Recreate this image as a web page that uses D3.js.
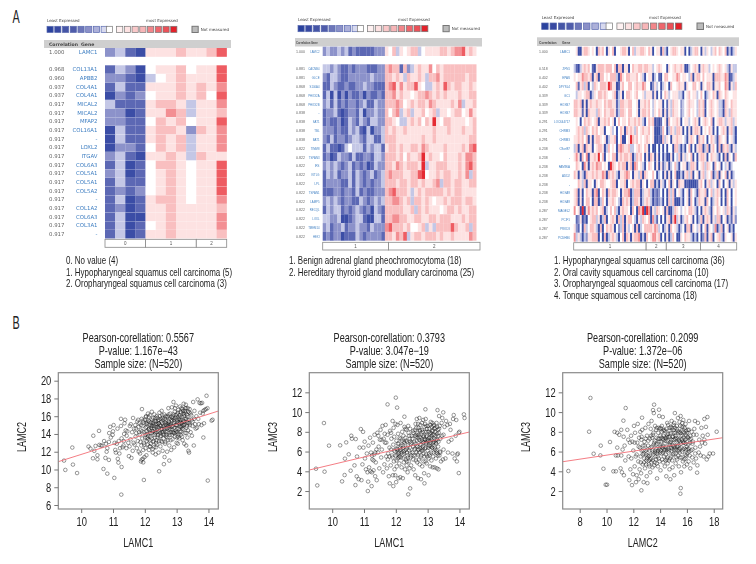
<!DOCTYPE html>
<html><head><meta charset="utf-8">
<script src="https://cdn.jsdelivr.net/npm/d3@7/dist/d3.min.js"></script>
<style>
html,body{margin:0;padding:0;background:#fff}
svg{display:block}
</style></head><body>
<svg id="c" width="756" height="564" font-family="Liberation Sans, sans-serif"></svg>
<script>
// ---------- Panel A: expression heat maps, levels 0 (least) .. 9 (most) ----------
const legendLevels=[0,0.3,0.7,1,1.5,2,2.5,3.2,4,4.5,5,5.6,6,6.6,7,7.6,9];
const legendLeast="Least Expressed", legendMost="most Expressed", legendNA="Not measured";

const hm1Corr=["1.000","0.968","0.960","0.937","0.937","0.917","0.917","0.917","0.917","0.917","0.917","0.917","0.917","0.917","0.917","0.917","0.917","0.917","0.917","0.917","0.917"];
const hm1Genes=["LAMC1","COL13A1","APBB2","COL4A1","COL4A1","MICAL2","MICAL2","MFAP2","COL16A1","-","LOXL2","ITGAV","COL6A3","COL5A1","COL5A1","COL5A2","-","COL1A2","COL6A3","COL3A1","-"];
const hm1Rows=[
"2310 55565568",
"1320 45564558",
"2210 34565558",
"1311 55565657",
"0212 45565648",
"3111 56653557",
"2201 55763556",
"2211 46564558",
"0311 56652657",
"0311 56563557",
"0221 46563557",
"2310 55653655",
"1301 46654558",
"2301 45654558",
"1311 45654558",
"1212 45654558",
"1301 56654557",
"1201 55655556",
"1300 55655557",
"1301 45655557",
"1301 55655556"];
const hm1Classes=[["0",4],["1",5],["2",3]];
const hm1Captions=["0. No value (4)","1. Hypopharyngeal squamus cell carcinoma (5)","2. Oropharyngeal squamus cell carcinoma (3)"];

const hm2Corr=["1.000","0.881","0.881","0.868","0.868","0.868","0.838","0.838","0.838","0.838","0.822","0.822","0.822","0.822","0.822","0.822","0.822","0.822","0.822","0.822","0.822"];
const hm2Genes=["LAMC2","CACNB4","GLCE","S100A4","PHOX2A","PHOX2B","-","SAT1","TBL","BAT1","TIMM8","TSPAN3","IRS","KITLG","LPL","TSPAN1","LAMP5","RECQL","LOXL","TMEM14","HEXI"];
const hm2Rows=[
"23223 23121 11112 22|54635 45663 45555 66567 78565",
"33232 11212 22111 22|67661 62356 55746 56666 66666",
"21332 11222 22232 22|66565 36556 53667 56666 66566",
"11321 12112 23221 11|67857 56685 43356 58656 65565",
"13030 20211 20211 21|66756 55456 67656 56555 65566",
"23131 21221 23113 22|66676 45656 65765 55565 73556",
"12231 01221 30223 22|64673 56355 64563 55456 64575",
"12112 01321 32133 22|66543 35656 46595 46655 55456",
"22212 11323 10302 23|65655 65555 55565 55655 56556",
"21312 21233 21331 13|66655 55555 65565 55555 55566",
"13110 13433 31323 31|56656 55665 76555 56555 56578",
"12013 22131 12213 32|66656 46556 95655 46555 65776",
"23232 12312 12013 22|66576 56665 93556 66555 65786",
"13231 22313 21231 23|67666 55668 94556 56655 65736",
"12222 11313 21212 23|66656 65665 65567 36656 65566",
"11122 12213 12112 22|67866 65356 56666 65656 65555",
"23232 12211 32123 23|66776 56366 56545 56566 65665",
"13233 12123 21203 21|66666 55636 56555 45665 65566",
"33223 00123 31003 31|66776 65566 55665 66655 56566",
"23122 31223 22132 22|78666 56445 63536 66686 55636",
"12122 01113 21222 21|66576 83566 56665 65565 55576"];
const hm2Classes=[["1",18],["2",25]];
const hm2Captions=["1. Benign adrenal gland pheochromocytoma (18)","2. Hereditary thyroid gland modullary carcinoma (25)"];

const hm3Corr=["1.000","0.518","0.402","0.402","0.339","0.339","0.339","0.291","0.291","0.291","0.238","0.238","0.238","0.238","0.238","0.238","0.238","0.287","0.287","0.287","0.287"];
const hm3Genes=["LAMC1","ZFN1","EPAS","DPYSL4","GC1","HOXB7","HOXB7","LOC644717","CHRM3","CHRM3","C9orf87","-","FAM96A","ADD2","-","HOXA9","HOXA9","MAGEL2","PCIF1","PRKD3","PCDHB6"];
const hm3Rows=[
"4500566545 4065640546 0445665046 3556654650 4550630456 6545504035 6640535435 6465460303 5",
"3103565641 0566656664 6066055046 5566566553 4565440545 6556500345 6505655345 4565453153 3",
"5455766560 5606645466 6307546655 5645304550 3410466445 5764554360 5664645550 6665576013 5",
"4615636043 6546665975 5015644664 5655764402 5340354064 4565505446 6450546650 5564476053 6",
"4355456603 5466565445 6035046654 5644535551 5041465345 5533045645 5346403546 5065465445 5",
"6656050565 5655465665 5136655664 4505565643 5455041536 5542345655 4365604565 4533065465 5",
"6655150655 5365465566 5136654664 4505665643 5465051536 5542345645 4365604565 4533065365 5",
"4540465654 5605565645 0464554655 6565304656 0101450645 5650455345 6504565460 4566535563 5",
"4565636546 5645504453 4046506565 3645655645 0002640365 3665040505 6650454650 4045650563 0",
"5565646050 5665450355 6046004596 5645456545 0010635405 5655430565 4065640465 3065450453 0",
"3605606550 4566503645 4067655633 4565465040 0404040440 6630304604 0566036056 4060656305 3",
"5750647055 6594604546 6056566560 3656405065 0504030050 4360535460 4056650465 5304060541 6",
"4654075056 5766454096 5465660560 7645304654 0505135034 6304550366 5045636540 6450435034 4",
"6505306556 5655760656 5305567640 5536065446 4034050504 6003056360 4505635460 3605460503 4",
"4465360554 0546654456 6045560456 5660540466 0305304605 4065501000 0156405635 4064045053 5",
"5605046550 6704650656 6540566703 6660355630 2124040636 0453045064 3065560463 5650406404 5",
"5605046640 6603640556 5430656503 6650356530 2123040636 0003045064 0365506403 5640406404 5",
"7450905756 5645603464 6305655406 4076909705 3654506003 6543454665 3040565305 4654536505 3",
"4125020456 6350360456 5063605664 3053654607 3140405606 9350356450 4036056505 3660450315 2",
"5214063466 5306046565 0423605345 0603466665 7634035064 5303406605 4350460543 7036045030 4",
"7353032556 6604060356 5304606505 6670306457 7560405036 4005465530 3040260560 4563054450 5"];
const hm3Classes=[["1",36],["2",10],["3",17],["4",18]];
const hm3Captions=["1. Hypopharyngeal squamus cell carcinoma (36)","2. Oral cavity squamous cell carcinoma (10)","3. Oropharyngeal squaomous cell carcinoma (17)","4. Tonque squamous cell carcinoma (18)"];

// ---------- Panel B: scatter plots ----------
const titlesA=["Pearson-corellation: 0.5567","P-value: 1.167e\u221243","Sample size: (N=520)"];
const titlesB=["Pearson-corellation: 0.3793","P-value: 3.047e\u221219","Sample size: (N=520)"];
const titlesC=["Pearson-corellation: 0.2099","P-value: 1.372e\u221206","Sample size: (N=520)"];
const fitA=[[9.28,10.88],[14.31,16.58]];
const fitB=[[9.28,4.13],[14.31,7.98]];
const fitC=[[6.73,4.97],[18.67,7.4]];
const ticksX12=[10,11,12,13,14], ticksX3=[8,10,12,14,16,18];
const ticksYA=[6,8,10,12,14,16,18,20], ticksYB=[2,4,6,8,10,12];

const pointsA=[[9.46,11],[9.5,9.95],[9.72,12.47],[9.74,10.55],[9.87,9.6],[10.23,12.58],[10.29,12.35],[10.38,13.8],[10.41,12.1],[10.37,11.26],[10.51,11.6],[10.51,11.15],[10.45,12.65],[10.56,14.35],[10.57,12.77],[10.72,13.2],[10.7,10.06],[10.82,9.53],[10.76,11.3],[10.87,11.08],[11.04,9.05],[11.26,7.17],[11.27,10.28],[11.17,10.77],[11.97,8.82],[12.45,9.8],[12.6,10.6],[12.77,11],[13.98,8.75],[14.13,15.6],[13.94,18.3],[13.84,13.6],
[10.62,12.7],[10.66,12.68],[10.78,12.9],[10.8,12],[10.82,12.4],[10.87,13.1],[10.88,14.1],[10.93,13.6],[10.91,14.8],[10.99,13.9],[11.02,15],[11,14.3],[11.05,13],[11.07,12.2],[11.09,11.9],[11.12,12.9],[11.14,14.6],[11.15,11.2],[11.18,13.2],[11.2,11.8],[11.22,12.4],[11.25,15.7],[11.25,14.9],[11.27,13.5],[11.3,12.5],[11.33,12.7],[11.34,13.2],[11.35,14],[11.36,15.2],[11.38,15.6],[11.4,14.4],[11.42,12.4],[11.43,13.8],[11.45,14.3],[11.48,13],
[11.5,11.5],[11.52,12.6],[11.53,14.9],[11.55,13.4],[11.56,15.1],[11.58,11.3],[11.6,14.2],[11.62,12.1],[11.63,15.8],[11.65,13],[11.66,14.6],[11.68,12.8],[11.7,15],[11.71,13.7],[11.73,14.1],[11.75,12.4],[11.76,15.4],[11.78,13.2],[11.8,14.8],[11.81,12],[11.83,15.2],[11.84,13.9],[11.85,11.8],[11.87,14.4],[11.88,10.9],[11.89,12.7],[11.9,15.7],[11.91,16.8],[11.92,13.5],[11.93,14.9],[11.94,11.2],[11.95,12.2],[11.96,15.3],[11.97,13],[11.98,14.2],[11.99,11.4],[12,15.6],[12.01,13.6],[12.02,12.4],[12.03,14.7],[12.04,16],[12.05,11.6],[12.06,13.2],[12.07,15.1],[12.08,14],[12.09,12.8],[12.1,16.3],[12.11,13.8],[12.12,14.5],[12.13,12.2],[12.14,15.4],[12.15,13.3],[12.16,16.1],[12.17,14.1],[12.18,15],[12.19,12.9],[12.2,14.7],[12.21,13.5],[12.22,16.5],[12.23,15.6],[12.24,14.3],[12.25,11.9],[12.26,13.1],[12.27,15.3],[12.28,14.9],[12.29,12.5],[12.3,16.2],[12.31,13.9],[12.32,14.4],[12.33,15.8],[12.34,11.7],[12.35,13],[12.36,14.8],[12.37,16],[12.38,12.8],[12.39,15.1],[12.4,13.6],[12.41,14.2],[12.42,15.5],[12.43,11.9],[12.44,14.7],[12.45,13.2],[12.46,16.4],[12.47,15],[12.48,14.1],[12.49,12.6],[12.5,15.7],[12.51,13.8],[12.52,14.5],[12.53,16.6],[12.54,13.1],[12.55,15.2],[12.56,12.1],[12.57,14],[12.58,15.6],[12.59,13.5],[12.6,14.8],[12.61,16.2],[12.62,11.4],[12.63,15.3],[12.64,12.9],[12.65,14.3],[12.66,16],[12.67,13.7],[12.68,15],[12.69,14.6],[12.7,12],[12.71,15.9],[12.72,13.3],[12.73,14.9],[12.74,16.9],[12.75,15.4],[12.76,14.1],[12.77,12.7],[12.78,15.7],[12.79,13.9],[12.8,16.3],[12.81,14.5],[12.82,15.1],[12.83,12.2],[12.84,14.8],[12.85,17],[12.86,15.5],[12.87,13.4],[12.88,16],[12.89,14.2],[12.9,17.6],[12.91,15.2],[12.92,12.5],[12.93,14.7],[12.94,16.5],[12.95,13.7],[12.96,15.8],[12.97,14.4],[12.98,17.2],[12.99,15],[13,13],[13.01,16.2],[13.02,14.6],[13.03,15.4],[13.04,12.9],[13.05,16.7],[13.06,14],[13.07,15.7],[13.08,13.5],[13.09,16.1],[13.1,14.8],[13.11,17.1],[13.12,15.3],[13.13,13.9],[13.14,16.4],[13.15,14.3],[13.16,15.9],[13.17,14.9],[13.18,16.8],[13.19,13.3],[13.2,15.5],[13.21,14.5],[13.22,17.4],[13.23,16],[13.24,12.9],[13.25,15.1],[13.26,16.6],[13.27,14.1],[13.28,15.7],[13.29,17.3],[13.3,12.7],[13.31,14.7],[13.32,16.2],[13.33,15.3],[13.34,13.6],[13.35,16.9],[13.36,14.4],[13.37,12.1],[13.38,15.6],[13.39,11.9],[13.4,16.4],[13.42,15],[13.44,14.2],[13.46,16.1],[13.48,13.8],[13.5,15.4],[13.52,17.6],[13.54,12.7],[13.56,16.6],[13.58,15.1],[13.6,14.6],[13.62,16],[13.64,14.7],[13.66,17.9],[13.68,15.7],[13.7,15.1],[13.72,17.5],[13.74,16.4],[13.76,17.45],[13.78,15],[13.8,17.5],[13.82,16.3],[13.84,16.6],[13.86,15.2],[13.88,16.7],[13.92,16.8],[13.97,16.9],[14.1,15.5],
[12.02,13.9],[12.08,15.3],[12.13,14.6],[12.18,13.7],[12.23,14.9],[12.28,13.2],[12.33,14.1],[12.38,14.6],[12.43,15.2],[12.48,13.7],[12.53,14.6],[12.58,14.2],[12.63,15.7],[12.68,13.9],[12.73,15.1],[12.78,14.6],[12.83,15.6],[12.88,14.9],[12.93,15.4],[12.98,14.2],[13.03,15.9],[13.08,15.2],[13.13,15.6],[13.18,14.6],[13.23,15.4],[13.28,16.4],[13.01,15],[13.11,14.2],[13.21,16.3],[13.31,15.7],[12.15,12.6],[12.25,12.3],[12.35,12.5],[12.05,14.3],[12.25,15.1],[12.45,15.6],[12.65,13.1],[12.85,13.9],[13.05,13.7],[13.15,16.9],[12.95,16.9],[12.75,16.2],[12.55,16.1],[12.35,15.4],
[12.04,15.2],[12.06,14.8],[12.1,13.4],[12.12,15.9],[12.16,14.4],[12.2,15.3],[12.22,14.1],[12.26,15.8],[12.3,14.6],[12.32,13.6],[12.34,15.1],[12.36,14.2],[12.4,15.8],[12.42,13.9],[12.44,15.2],[12.46,14.3],[12.5,14.9],[12.52,15.4],[12.54,14.2],[12.56,15.8],[12.6,13.9],[12.62,15],[12.64,14.6],[12.66,15.5],[12.7,14.2],[12.72,16],[12.74,14.7],[12.76,15.2],[12.8,15],[12.82,14.2],[12.84,15.9],[12.86,14.5],[12.9,16.2],[12.92,15.6],[12.94,14.1],[12.96,15],[13,15.6],[13.02,14.2],[13.04,16.4],[13.06,15.3],[13.1,15.9],[13.12,16.5],[13.14,14.8],[13.16,15.2],[13.2,16.6],[13.22,15],[13.24,16.2],[13.26,15.4],[13.3,16.9],[13.32,14.9],[13.34,15.9],[13.36,16.5],[13.4,15.2],[13.44,16.3],[13.5,14.9],[13.55,15.7],[12.03,15.9],[12.07,13.6],[12.11,15.5],[12.17,12.6],[12.21,14.9],[12.27,14.3],[12.31,15.5],[12.37,13.3],[12.41,14.8],[12.47,16],[12.51,13.2],[12.57,14.9],[12.61,14.5],[12.67,15.2],[12.71,13.6],[12.77,15],[12.81,13.3],[12.87,15.8],[12.91,14.1],[12.97,16.1],[13.01,13.6],[13.07,14.6],[13.11,15.4],[13.17,13.7],[13.21,15],[13.27,16.9],[13.31,14.1],[13.37,15.2],[13.41,16.8],[13.47,15.6],[11.72,14.6],[11.79,15.6],[11.82,14.2],[11.86,13.1],[11.88,15],[11.92,14.3],[11.94,15.5],[11.98,12.8],[11.9,11.1],[11.95,10.8]];

const pointsB=[[9.49,4.26],[9.53,2.57],[9.74,8.89],[9.76,3.96],[9.9,6.6],[10.31,2.98],[10.25,6.63],[10.4,5.28],[10.39,3.62],[10.44,6.93],[10.52,5.72],[10.58,4.06],[10.6,7.6],[10.73,2.6],[10.74,7.27],[10.77,3.49],[10.9,8.28],[10.97,8],[11.12,2],[11.24,2.5],[11.13,2.95],[11.74,10.78],[12,11.46],[12.04,10.45],[12.39,1.66],[12.45,2.27],[12.27,9.53],[12.93,10.28],[12.9,2.78],[13.31,10.2],[13.49,9.97],[13.98,3.82],[14.14,9.77],[14.16,9.4],[11.92,2.5],[11.81,2.78],
[10.62,7.3],[10.7,4.6],[10.78,5.5],[10.83,3.2],[10.86,6.4],[10.92,3.1],[10.95,4.7],[10.98,6.4],[11.02,7],[11.03,5.3],[11.06,4.2],[11.09,5.8],[11.11,3.9],[11.14,6.6],[11.16,4.4],[11.19,7.4],[11.2,4],[11.22,5.9],[11.25,3.9],[11.26,5.2],[11.28,6.9],[11.3,4.1],[11.32,5.7],[11.33,7.7],[11.35,3.5],[11.37,4.9],[11.39,6.2],[11.4,3.1],[11.42,7.9],[11.44,5.9],[11.46,6.5],[11.48,4.3],[11.5,7.2],[11.52,8.2],[11.54,5.4],[11.56,6.2],[11.58,8.6],[11.6,3.9],[11.62,7.3],[11.64,4.7],[11.66,6.9],[11.68,8.7],[11.7,5.5],[11.72,4.3],[11.74,7.7],[11.76,5.8],[11.78,3.5],[11.8,6.4],[11.82,8.1],[11.84,4.6],[11.86,7.3],[11.88,5.6],[11.9,9.1],[11.91,3.6],[11.92,6.7],[11.93,8.4],[11.94,5],[11.95,7.5],[11.96,4.2],[11.97,6],[11.98,3.6],[11.99,8.8],[12,5.6],[12.01,2.9],[12.02,7.1],[12.03,4.5],[12.04,6.3],[12.05,8.7],[12.06,5.3],[12.07,7.8],[12.08,3.3],[12.09,6.8],[12.1,5.9],[12.11,4.8],[12.12,7.4],[12.13,6.1],[12.14,3.4],[12.15,8.9],[12.16,5.4],[12.17,6.6],[12.18,4.4],[12.19,7.1],[12.2,8],[12.21,5.7],[12.22,3.3],[12.23,6.4],[12.24,7.6],[12.25,4.9],[12.26,5.8],[12.27,8.5],[12.28,6.9],[12.29,4.2],[12.3,7.4],[12.31,5.2],[12.32,6.2],[12.33,8.2],[12.34,4.6],[12.35,7],[12.36,5.6],[12.37,3.9],[12.38,6.6],[12.39,8.6],[12.4,7.9],[12.41,5],[12.42,6.1],[12.43,4.3],[12.44,7.3],[12.45,8.3],[12.46,5.4],[12.47,6.8],[12.48,4.6],[12.5,7.6],[12.52,5.9],[12.54,8.1],[12.56,4.2],[12.58,7],[12.6,6.3],[12.61,3.6],[12.62,8.8],[12.63,5.1],[12.64,7.5],[12.65,6.6],[12.66,9.3],[12.67,4.9],[12.68,7.9],[12.69,5.7],[12.7,3.3],[12.71,8.4],[12.72,6.2],[12.73,7.2],[12.74,9.4],[12.75,4.7],[12.76,6.7],[12.77,8.7],[12.78,5.4],[12.79,3.2],[12.8,7.7],[12.81,6.1],[12.82,8.2],[12.83,4.5],[12.84,7],[12.85,6.5],[12.86,9.2],[12.87,5.8],[12.88,7.5],[12.89,3.8],[12.9,8.5],[12.91,6.3],[12.92,7.2],[12.93,5],[12.94,9.3],[12.95,6.8],[12.96,8],[12.97,4.8],[12.98,7.6],[12.99,5.5],[13,6.1],[13.01,8.6],[13.02,7.1],[13.03,3.6],[13.04,6.6],[13.05,8.3],[13.06,5.6],[13.07,7.8],[13.08,4.5],[13.09,6.9],[13.1,9],[13.11,7.4],[13.12,5.1],[13.13,8.5],[13.14,6.4],[13.15,7.7],[13.16,4.4],[13.17,8.1],[13.18,6.9],[13.19,5.9],[13.2,8.7],[13.21,7.3],[13.22,4.4],[13.23,6.2],[13.24,8.4],[13.25,7.6],[13.26,5.3],[13.27,6.8],[13.28,8.9],[13.29,4.3],[13.3,7.2],[13.31,5.8],[13.32,8.2],[13.33,6.5],[13.34,4.2],[13.35,7.9],[13.36,9.6],[13.37,5.6],[13.38,8.6],[13.39,6],[13.4,7.3],[13.42,5],[13.44,8.9],[13.46,9.4],[13.48,5.2],[13.5,7.7],[13.53,8.5],[13.56,5.3],[13.58,9.1],[13.62,8.7],[13.64,5.9],[13.66,7],[13.7,8.8],[13.72,8.2],[13.75,7.2],[13.78,5.8],[13.8,9.3],[13.82,9.7],[13.85,5.3],[13.88,7.6],[13.9,9.2],[13.92,5],[13.93,5.7],[13.95,5.8],[13.98,7.9],[14,8],
[11.7,6.9],[11.85,6.2],[12.05,6.2],[12.15,7.3],[12.25,6],[12.35,5.9],[12.45,5.9],[12.55,6.5],[12.65,7.7],[12.75,7.5],[12.85,8],[12.95,6.9],[13.05,7.4],[13.15,6.4],[13.25,6.9],[12.55,7.9],[12.7,6.2],[12.8,6.7],[12.9,5.5],[13.1,7.9],[13.2,7.7],[13.3,8.5],[12.6,8.2],[12.3,8.3],[12.1,5.4],
[11.25,5.6],[11.3,5.1],[11.35,5.9],[11.45,7.6],[11.55,7.2],[11.65,7.8],[11.75,5.2],[11.8,5.5],[11.85,7.9],[11.9,5.4],[11.95,6.1],[12,6.3],[12.02,5.1],[12.06,6.8],[12.08,5.8],[12.12,5.5],[12.14,6.4],[12.18,5.9],[12.22,6.6],[12.24,5.3],[12.28,6.1],[12.32,7.1],[12.36,6.4],[12.38,5.4],[12.42,7.6],[12.44,6.4],[12.48,5.6],[12.5,6.9],[12.52,7.3],[12.56,5.6],[12.58,6.2],[12.6,7.6],[12.62,6.8],[12.64,8.4],[12.66,7.1],[12.68,6.5],[12.7,8.8],[12.72,7.7],[12.74,5.9],[12.76,8.2],[12.78,7.1],[12.8,5.6],[12.82,8.9],[12.84,6.3],[12.86,7.6],[12.88,6.9],[12.9,7.3],[12.92,8.8],[12.94,6.4],[12.96,7.5],[12.98,8.3],[13,7.2],[13.02,6.4],[13.04,8],[13.06,7.1],[13.08,8.7],[13.1,6.5],[13.12,7.6],[13.14,8.1],[13.16,6.9],[13.18,8.6],[13.2,7],[13.22,6.4],[13.24,8],[13.26,7.2],[13.28,6.1],[13.3,7.8],[13.32,5.6],[13.34,7],[13.36,8.3],[13.4,5.9],[13.45,7.6],[13.5,6.2],[12.61,5.6],[12.69,7.4],[12.73,5.2],[12.77,6.3],[12.83,7.2],[12.87,5],[12.91,8],[12.95,5.7],[12.99,7],[13.03,5.3],[13.07,6.6],[13.11,5.9],[13.21,8.3],[13.27,5.9],[13.33,7.6],[13.13,7.2],[13.17,5.5],[12.05,5.7],[12.15,6.2],[12.25,7],[12.35,5],[12.45,7],[12.55,5.2],[12.65,5.9],[12.75,8.1],[12.85,6.1],[12.95,8.6],[13.05,5.8],[13.15,8.9]];

const pointsC=[[7.15,4.03],[8.8,11.43],[8.7,8.01],[9.04,5.78],[9.54,5.61],[9.57,6.6],[9.77,4.26],[9.94,2.64],[10.04,2.64],[10.26,6.97],[10.51,4],[10.7,4],[10.6,8],[11.43,10.41],[11.26,9.13],[12.65,9.43],[12.6,2.07],[13.55,10.75],[13.92,10.24],[13.47,10.2],[15.54,2.3],[15.51,1.73],[18.22,8.01],[17.53,9.5],[17.3,9.3],[16.76,3.86],[13.77,3.28],
[10.7,5.6],[10.8,7.9],[10.8,6.4],[10.85,5.6],[10.95,7.7],[11.05,4.3],[11.1,8.2],[11.1,5.6],[11.15,3.9],[11.2,6.2],[11.28,7.5],[11.3,3.6],[11.35,6.6],[11.4,5.1],[11.55,8.2],[11.62,7.2],[11.65,5.5],[11.7,3.1],[11.75,6.9],[11.78,4.2],[11.83,7.6],[11.85,5.3],[11.9,2.6],[11.93,7],[11.98,3.7],[12,6.1],[12.05,8.6],[12.1,4.5],[12.13,7.9],[12.18,5.5],[12.2,2.9],[12.25,3.6],[12.3,6.9],[12.33,8.8],[12.37,5],[12.4,3.2],[12.43,7.4],[12.47,4.2],[12.5,6.4],[12.52,8],[12.55,5.5],[12.58,3.8],[12.62,7.5],[12.66,8.2],[12.7,4.7],[12.73,6.6],[12.77,2.9],[12.8,5.8],[12.83,7],[12.87,4.3],[12.9,8.4],[12.93,6.1],[12.97,5.1],[13,3.5],[13.02,7.6],[13.05,2.8],[13.08,5.6],[13.1,6.6],[13.13,8.8],[13.16,4.7],[13.2,6.1],[13.23,7.3],[13.26,3.9],[13.3,8.3],[13.33,5.3],[13.36,9.1],[13.4,6.5],[13.43,4.4],[13.46,7.7],[13.5,5.7],[13.53,9.9],[13.56,6.9],[13.6,4.9],[13.62,8.6],[13.65,6.1],[13.68,5.2],[13.72,7.4],[13.75,8.4],[13.78,5.8],[13.8,6.8],[13.83,4.5],[13.86,7.9],[13.9,5.3],[13.93,9.6],[13.96,6.3],[14,8.3],[14.03,4.1],[14.06,7],[14.1,5.8],[14.13,8.6],[14.16,6.4],[14.2,9.5],[14.23,4.9],[14.26,7.6],[14.3,5.5],[14.33,6.8],[14.36,8.1],[14.4,5.1],[14.43,7.3],[14.46,3.5],[14.5,6.2],[14.53,8.9],[14.56,4.8],[14.6,7.8],[14.63,5.9],[14.66,6.7],[14.7,4.2],[14.73,8.4],[14.76,3.2],[14.8,7],[14.83,5.5],[14.86,9.1],[14.9,6.3],[14.93,4.4],[14.96,7.5],[15,8.7],[15.02,5.8],[15.05,3.6],[15.08,6.9],[15.1,9.9],[15.13,7.9],[15.16,4.8],[15.2,6.2],[15.23,8.3],[15.26,5.2],[15.3,7.3],[15.33,9.4],[15.36,6.6],[15.4,4.5],[15.43,8],[15.46,5.9],[15.5,7],[15.53,9.6],[15.56,3.9],[15.6,6.4],[15.63,8.5],[15.66,7.6],[15.7,5],[15.73,9.2],[15.76,6.9],[15.8,4.5],[15.83,7.9],[15.86,5.7],[15.9,8.8],[15.93,6.2],[15.96,7.3],[16,4.7],[16.03,5.8],[16.06,8.2],[16.1,6.7],[16.13,5],[16.16,9.1],[16.2,7.2],[16.25,4.3],[16.3,6.1],[16.35,8],[16.4,5.4],[16.45,7],[16.5,4.9],[16.55,8.3],[16.6,9.1],[16.63,6.4],[16.68,5.3],[16.72,7.7],[16.78,4.6],[16.82,8.9],[16.88,5.9],[16.92,7.2],[16.98,6.5],[17.02,5.6],[17.08,8.4],[17.12,6.9],[17.18,7.6],[17.25,5.5],[17.3,7.2],[17.36,6.8],[17.42,8.5],[17.48,5.2],[17.55,7.7],[17.6,5.5],[17.7,5.8],[17.95,5.8],
[13.5,7.9],[13.7,6.7],[13.85,6.1],[14,6.5],[14.1,7.4],[14.2,5.9],[14.3,8.2],[14.4,7.1],[14.5,7.5],[14.6,6.3],[14.7,8.1],[14.75,6.7],[14.8,7.9],[14.85,6.1],[14.9,8.4],[14.95,5.7],[15,7.2],[15.05,8.9],[15.1,6.4],[15.15,7.6],[15.2,5.4],[15.25,8.6],[15.3,6.5],[15.35,7.9],[15.4,6.1],[15.45,9],[15.5,5.4],[15.55,7.6],[15.6,8.1],[15.65,6],[15.7,7],[15.75,8.5],[15.8,6.3],[15.85,7.2],[15.9,5.3],[15.95,8.1],[16,6.5],[16.05,7.5],[16.15,6],[16.25,7.6],[14.25,7.2],[14.55,5.4],[14.35,4.5],[14.65,5.1],[13.95,7.3],[13.25,5.2],[13.45,5.1],[12.95,5.7],[13.15,5.5],[12.75,6.1],
[12.1,6.9],[12.25,5.7],[12.4,6.5],[12.55,4.9],[12.6,7.2],[12.7,5.7],[12.8,4.9],[12.85,6.6],[12.95,4.7],[13.05,6.2],[13.15,5.1],[13.2,4.5],[13.3,6.4],[13.35,4.9],[13.4,7.4],[13.45,5.9],[13.55,4.6],[13.6,7.1],[13.65,5.5],[13.7,8.2],[13.75,4.8],[13.8,6],[13.85,7.3],[13.9,8.4],[13.95,5],[14,5.9],[14.05,8.4],[14.1,6.5],[14.15,5.2],[14.2,7.3],[14.25,8.1],[14.3,6.1],[14.35,7.4],[14.4,6.2],[14.45,8.3],[14.5,5.2],[14.55,7.1],[14.6,8.7],[14.65,6.1],[14.7,7.5],[14.75,5.3],[14.8,8.5],[14.85,7.2],[14.9,5.1],[14.95,6.6],[15,7.9],[15.05,6.2],[15.1,8.4],[15.15,5.8],[15.2,7.4],[15.25,6.5],[15.3,8.1],[15.35,5.6],[15.4,7.1],[15.45,6.3],[15.5,8.6],[15.55,6.8],[15.6,5.4],[15.65,8.9],[15.7,6.2],[15.75,7.4],[15.8,5.2],[15.85,8.4],[15.9,6.8],[15.95,5.6],[16,7.9],[16.05,6.2],[16.1,7.4],[16.15,8.2],[16.2,5.6],[16.3,7.3],[16.4,6.2],[16.5,7.7],[14.05,6.1],[14.45,6.4],[14.62,7.5],[14.82,6.4],[15.02,6.5],[15.22,6.9],[15.42,7.2],[15.62,7.2],[15.82,6.9],[15.02,8.2],[14.72,6.9],[14.52,7.7],[14.32,6.2],[14.12,8],[13.92,7],[13.72,6.3],[13.52,6.7],[13.32,7.6],[13.12,7.1],[12.92,7.3],[15.12,7.3],[15.32,6.1],[15.52,7.9],[15.72,8],[15.92,7.7],[16.12,6.3],[16.22,6.9],[16.42,6.8],[16.62,5.8],[14.92,7.5],[14.42,5.7],[14.22,6.6],[14.02,7.6],[13.82,5.5],[13.62,5.9],[13.42,6.1],[13.22,5.6],[13.02,5.3],[12.82,5.3],[12.62,6.1]];

const xLabelA="LAMC1", yLabelA="LAMC2", xLabelB="LAMC1", yLabelB="LAMC3", xLabelC="LAMC2", yLabelC="LAMC3";
const panelLetters=["A","B"];

// ---------- drawing ----------
const svg=d3.select("#c");
const WIDE="DejaVu Sans, sans-serif";
const defs=svg.append("defs");
defs.append("filter").attr("id","soft").attr("x","-5%").attr("y","-5%").attr("width","110%").attr("height","110%")
  .append("feGaussianBlur").attr("stdDeviation",0.5);
defs.append("filter").attr("id","soft2").append("feGaussianBlur").attr("stdDeviation",0.3);

const color=d3.scaleLinear().domain([0,1,2,3,4,5,6,7,8,9])
  .range(["#3b4ea6","#5c67b4","#8c92ca","#c4c7e6","#ffffff","#fde2e2","#f9bfc0","#f38f93","#ee5c62","#e52a32"]);
const legendColor=d3.scaleLinear().domain([0,1,2,3,4,5,6,7,9])
  .range(["#2c429e","#4f5baa","#8b90c8","#cdd0ea","#ffffff","#fde2e2","#f7b6b8","#ee666c","#e3202a"]);

function narrow(sel,k){return sel.classed("narrow",true).attr("data-k",k);}

function heatmap(o){
  const g=svg.append("g").attr("filter","url(#soft)");
  // legend
  const lx=d3.scaleLinear().domain([0,16]).range([o.legX0,o.legX1]);
  const legOffset=i=>i<8?0:(i===8?2.5:5)-o.legShift;
  g.selectAll("rect.leg").data(legendLevels).join("rect")
    .attr("x",(d,i)=>lx(i)+legOffset(i)).attr("y",o.legY).attr("width",o.legSize).attr("height",o.legSize)
    .attr("fill",d=>legendColor(d)).attr("stroke",(d,i)=>i>=8?"#777":"#5a6ab0").attr("stroke-width",0.7);
  const lg=(x,y,t)=>g.append("text").attr("x",x).attr("y",y).attr("font-size",4).attr("font-family",WIDE).attr("fill","#444").text(t);
  lg(o.legX0,o.legY-4.5,legendLeast); lg(o.mostX,o.legY-4.5,legendMost);
  g.append("rect").attr("x",o.naX).attr("y",o.legY).attr("width",o.legSize).attr("height",o.legSize).attr("fill","#bbb").attr("stroke","#777").attr("stroke-width",1);
  lg(o.naX+o.legSize+2.5,o.legY+o.legSize-1.5,legendNA);
  // header
  g.append("rect").attr("x",o.hdrX0).attr("y",o.hdrY).attr("width",o.hdrX1-o.hdrX0).attr("height",o.hdrH).attr("fill","#cfcfcf");
  const hdr=(x,t)=>g.append("text").attr("x",x).attr("y",o.hdrY+o.hdrH-2.2).attr("font-size",o.hdrFont).attr("font-weight","bold").attr("font-family",o.labFamily).attr("fill","#444").text(t);
  hdr(o.corrX,"Correlation"); hdr(o.hdrGeneX,"Gene");
  // rows
  const rows=o.rows.map(r=>r.replace(/[^0-9]/g,"").split("").map(Number));
  const nCols=d3.sum(o.classes,c=>c[1]);
  const x=d3.scaleLinear().domain([0,nCols]).range([o.x0,o.x1]);
  const rowY=d3.scaleLinear().domain([1,rows.length-1]).range([o.y1Start,o.y1End]);
  const yOf=i=>i===0?o.y0:rowY(i);
  const hOf=i=>i===0?o.h0:o.rowH;
  rows.forEach((r,i)=>{
    g.selectAll(null).data(r).join("rect")
      .attr("x",(d,j)=>x(j)).attr("y",yOf(i)).attr("width",x(1)-x(0)+0.15).attr("height",hOf(i)-o.gap)
      .attr("fill",d=>color(d));
    g.append("text").attr("x",o.corrX).attr("y",yOf(i)+hOf(i)*0.68).attr("font-size",o.labFont).attr("font-family",o.labFamily).attr("fill","#666").text(o.corr[i]);
    narrow(g.append("text").attr("x",o.geneX).attr("y",yOf(i)+hOf(i)*0.68).attr("text-anchor","end").attr("font-size",o.labFont).attr("font-family",o.labFamily).attr("fill","#3f7fc2").text(o.genes[i]),o.geneK);
  });
  // class bar
  let c0=0;
  o.classes.forEach(c=>{
    g.append("rect").attr("x",x(c0)).attr("y",o.clsY).attr("width",x(c0+c[1])-x(c0)).attr("height",o.clsH)
      .attr("fill","#fff").attr("stroke","#888").attr("stroke-width",0.8);
    g.append("text").attr("x",x(c0+c[1]/2)).attr("y",o.clsY+o.clsH-2).attr("text-anchor","middle").attr("font-size",4.5).attr("fill","#555").text(c[0]);
    c0+=c[1];
  });
  // captions
  const cg=svg.append("g").attr("filter","url(#soft2)");
  o.captions.forEach((t,i)=>{
    narrow(cg.append("text").attr("x",o.capX).attr("y",o.capY+i*11.6).attr("font-size",11.8).attr("fill","#1c1c1c").text(t),0.675);
  });
}

heatmap({rows:hm1Rows,corr:hm1Corr,genes:hm1Genes,classes:hm1Classes,captions:hm1Captions,
  legX0:47,legX1:177-6.3,legY:26.3,legSize:6.2,legShift:5,mostX:146,naX:192,labFamily:WIDE,geneK:1,
  hdrX0:44,hdrX1:231,hdrY:40,hdrH:8,hdrFont:4.6,corrX:49,hdrGeneX:81,geneX:97.5,labFont:5.4,
  x0:105,x1:226.7,y0:48,h0:9,y1Start:65.3,y1End:230,rowH:8.67,gap:0.2,
  clsY:239.3,clsH:8,capX:66,capY:264});
heatmap({rows:hm2Rows,corr:hm2Corr,genes:hm2Genes,classes:hm2Classes,captions:hm2Captions,
  legX0:298,legX1:428-6.3,legY:25.5,legSize:6.2,legShift:5,mostX:398,naX:443,labFamily:"Liberation Sans, sans-serif",geneK:0.78,
  hdrX0:295,hdrX1:482,hdrY:38,hdrH:8.5,hdrFont:2.7,corrX:296,hdrGeneX:311,geneX:319.5,labFont:3.6,
  x0:322.7,x1:480,y0:46.7,h0:9.3,y1Start:64.3,y1End:231.9,rowH:8.82,gap:0,
  clsY:242.3,clsH:7.7,capX:289,capY:264});
heatmap({rows:hm3Rows,corr:hm3Corr,genes:hm3Genes,classes:hm3Classes,captions:hm3Captions,
  legX0:541.7,legX1:681.7-6.3,legY:23,legSize:6.5,legShift:5,mostX:649,naX:697,labFamily:"Liberation Sans, sans-serif",geneK:0.85,
  hdrX0:537,hdrX1:739,hdrY:37.3,hdrH:8.7,hdrFont:3.3,corrX:539,hdrGeneX:562,geneX:570,labFont:3.5,
  x0:573.7,x1:736.7,y0:46.7,h0:9,y1Start:64,y1End:232.8,rowH:8.88,gap:0,
  clsY:242.7,clsH:7.3,capX:554,capY:264});

function scatter(o){
  const x=d3.scaleLinear().domain(o.dx).range([o.bx0,o.bx1]);
  const y=d3.scaleLinear().domain(o.dy).range([509,372.7]);
  const g=svg.append("g").attr("filter","url(#soft2)");
  g.append("g").selectAll("circle").data(o.pts).join("circle")
    .attr("cx",d=>x(d[0])).attr("cy",d=>y(d[1])).attr("r",1.8)
    .attr("fill","none").attr("stroke","#1c1c1c").attr("stroke-opacity",0.52).attr("stroke-width",0.85);
  g.append("line").attr("x1",x(o.fit[0][0])).attr("y1",y(o.fit[0][1])).attr("x2",x(o.fit[1][0])).attr("y2",y(o.fit[1][1]))
    .attr("stroke","#f2666e").attr("stroke-opacity",0.85).attr("stroke-width",1);
  g.append("rect").attr("x",o.bx0).attr("y",372.7).attr("width",o.bx1-o.bx0).attr("height",136.3)
    .attr("fill","none").attr("stroke","#8a8a8a").attr("stroke-width",1.2);
  const ax=g.append("g").attr("transform","translate(0,509)").call(d3.axisBottom(x).tickValues(o.tx).tickSize(4).tickPadding(4).tickFormat(d3.format("d")));
  const ay=g.append("g").attr("transform",`translate(${o.bx0},0)`).call(d3.axisLeft(y).tickValues(o.ty).tickSize(4).tickPadding(3).tickFormat(d3.format("d")));
  [ax,ay].forEach(a=>{
    a.select(".domain").remove();
    a.selectAll("line").attr("stroke","#777").attr("stroke-width",1);
    a.attr("font-family",null);
    narrow(a.selectAll("text").attr("font-size",12.5).attr("fill","#222"),0.75);
  });
  const cx=(o.bx0+o.bx1)/2;
  o.titles.forEach((t,i)=>narrow(g.append("text").attr("x",cx).attr("y",342+i*13.2).attr("text-anchor","middle").attr("font-size",12).attr("fill","#222").text(t),0.76));
  narrow(g.append("text").attr("x",cx).attr("y",547).attr("text-anchor","middle").attr("font-size",12.5).attr("fill","#222").text(o.xl),0.72);
  narrow(g.append("text").attr("transform",`translate(${o.ylx},437) rotate(-90)`).attr("text-anchor","middle").attr("font-size",12.5).attr("fill","#222").text(o.yl),0.72);
}
scatter({pts:pointsA,fit:fitA,dx:[9.28,14.31],dy:[5.55,20.9],bx0:58.3,bx1:218.3,tx:ticksX12,ty:ticksYA,titles:titlesA,xl:xLabelA,yl:yLabelA,ylx:26});
scatter({pts:pointsB,fit:fitB,dx:[9.28,14.31],dy:[0.18,13.99],bx0:309.3,bx1:469.3,tx:ticksX12,ty:ticksYB,titles:titlesB,xl:xLabelB,yl:yLabelB,ylx:277});
scatter({pts:pointsC,fit:fitC,dx:[6.73,18.67],dy:[0.18,13.99],bx0:562.7,bx1:722.7,tx:ticksX3,ty:ticksYB,titles:titlesC,xl:xLabelC,yl:yLabelC,ylx:530});

narrow(svg.selectAll("text.panel").data(panelLetters).join("text").classed("panel",true)
  .attr("x",12.5).attr("y",(d,i)=>i===0?23.5:329.5).attr("font-size",18).attr("fill","#222").text(d=>d),0.6);

// squeeze the body text horizontally to the condensed setting of the figure
svg.selectAll("text.narrow").each(function(){
  const k=+this.getAttribute("data-k");
  const x=+this.getAttribute("x")||0;
  const old=this.getAttribute("transform")||"";
  this.setAttribute("transform",`${old} translate(${x} 0) scale(${k} 1) translate(${-x} 0)`);
});
</script>
</body></html>
